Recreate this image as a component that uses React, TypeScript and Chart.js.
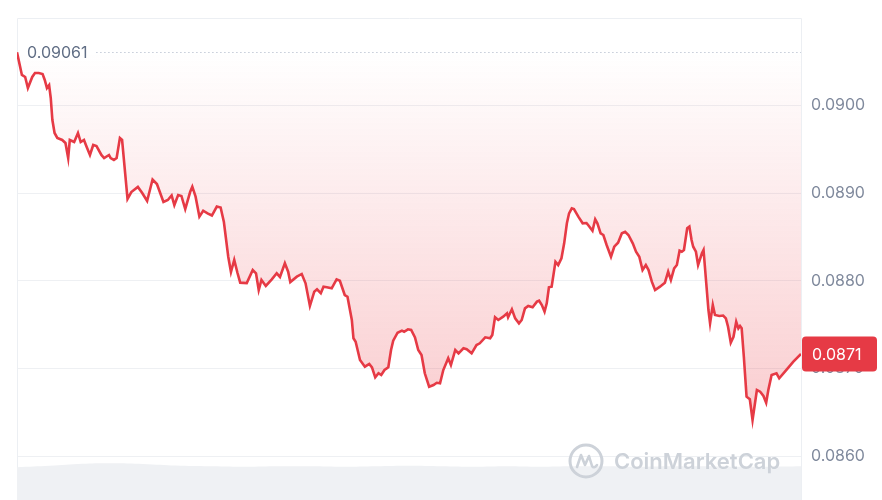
import React, { useEffect, useRef } from "react";
import { Chart, registerables } from "chart.js";

Chart.register(...registerables);

// minutes since start of the 24h window
const TIMES = [
  0, 7, 9, 15, 20, 28, 33, 40, 47, 51, 55, 59, 62, 65, 69, 74, 83, 89, 94, 97,
  105, 112, 117, 123, 128, 134, 140, 146, 155, 160, 169, 172, 178, 183, 189, 193, 203, 210, 222, 230,
  239, 249, 257, 269, 277, 284, 289, 296, 302, 309, 318, 322, 328, 335, 342, 350, 358, 367, 374, 380,
  388, 393, 399, 405, 410, 422, 433, 439, 444, 449, 457, 468, 477, 483, 492, 498, 502, 514, 523, 530,
  538, 546, 551, 558, 563, 569, 578, 587, 593, 602, 607, 615, 618, 622, 630, 639, 647, 652, 658, 664,
  669, 675, 682, 687, 691, 699, 707, 711, 718, 724, 731, 737, 743, 749, 757, 765, 771, 777, 783, 792,
  797, 805, 811, 820, 826, 835, 844, 850, 860, 869, 873, 878, 884, 893, 900, 902, 909, 915, 922, 927,
  933, 939, 947, 955, 959, 964, 969, 973, 977, 982, 989, 994, 1000, 1005, 1010, 1014, 1019, 1023, 1031, 1039,
  1046, 1049, 1057, 1062, 1066, 1072, 1077, 1083, 1091, 1097, 1104, 1111, 1117, 1123, 1131, 1137, 1143, 1149, 1155, 1160,
  1166, 1172, 1181, 1190, 1196, 1201, 1207, 1212, 1217, 1221, 1225, 1231, 1235, 1239, 1242, 1247, 1251, 1258, 1261, 1266,
  1270, 1273, 1278, 1282, 1290, 1297, 1302, 1306, 1311, 1316, 1321, 1325, 1328, 1331, 1335, 1340, 1346, 1351, 1359, 1365,
  1371, 1376, 1380, 1386, 1395, 1400, 1414, 1426, 1440,
];

const PRICES = [
  0.09061, 0.090407, 0.09035, 0.090327, 0.090201, 0.090327, 0.090372, 0.090372, 0.09036, 0.090293,
  0.090201, 0.090235, 0.090087, 0.089836, 0.089688, 0.089631, 0.089608, 0.089574, 0.089402, 0.089608,
  0.089585, 0.089688, 0.089585, 0.089608, 0.089528, 0.089437, 0.089551, 0.089539, 0.089437, 0.089402,
  0.089437, 0.089402, 0.08938, 0.089402, 0.089631, 0.089608, 0.088935, 0.089014, 0.089072, 0.089003,
  0.088912, 0.089157, 0.089106, 0.0889, 0.088923, 0.088975, 0.088866, 0.08898, 0.088969, 0.08882,
  0.089014, 0.089075, 0.088961, 0.088733, 0.088801, 0.088771, 0.088746, 0.088849, 0.088838, 0.088672,
  0.088276, 0.088102, 0.088239, 0.08809, 0.08798, 0.087975, 0.088124, 0.088087, 0.087896, 0.08801,
  0.087942, 0.088018, 0.088087, 0.088045, 0.088201, 0.088105, 0.087987, 0.088048, 0.088079, 0.087973,
  0.087714, 0.087877, 0.087904, 0.087859, 0.087934, 0.087927, 0.087916, 0.088018, 0.088002, 0.087839,
  0.08782, 0.087554, 0.087345, 0.087306, 0.087097, 0.087021, 0.087052, 0.087014, 0.0869, 0.086946,
  0.086926, 0.086983, 0.087014, 0.087212, 0.087318, 0.087409, 0.087432, 0.08742, 0.087448, 0.08744,
  0.087356, 0.087212, 0.087155, 0.086946, 0.086793, 0.086812, 0.086838, 0.086832, 0.086983, 0.087117,
  0.08704, 0.087212, 0.087174, 0.087231, 0.08722, 0.087174, 0.087269, 0.087288, 0.087356, 0.087345,
  0.087383, 0.087585, 0.087554, 0.087592, 0.08763, 0.087585, 0.087676, 0.087573, 0.087516, 0.087554,
  0.087687, 0.087714, 0.087699, 0.087763, 0.087774, 0.087725, 0.087649, 0.087744, 0.087927, 0.087934,
  0.088219, 0.088181, 0.088258, 0.088429, 0.088657, 0.088771, 0.088828, 0.08882, 0.088733, 0.088657,
  0.08866, 0.088638, 0.088573, 0.088703, 0.088657, 0.088543, 0.088524, 0.08841, 0.088276, 0.08839,
  0.088436, 0.088543, 0.088561, 0.088524, 0.088429, 0.088333, 0.088276, 0.088124, 0.088181, 0.088124,
  0.087991, 0.087896, 0.087934, 0.08798, 0.088105, 0.08801, 0.088144, 0.088181, 0.088345, 0.088333,
  0.088353, 0.0886, 0.088619, 0.088467, 0.08839, 0.088333, 0.088181, 0.088315, 0.088353, 0.087973,
  0.087668, 0.087516, 0.087725, 0.087611, 0.0876, 0.087605, 0.087573, 0.087477, 0.087295, 0.087363,
  0.087534, 0.087459, 0.087485, 0.087459, 0.087135, 0.086679, 0.086649, 0.086413, 0.086755, 0.086736,
  0.086687, 0.08661, 0.086755, 0.086926, 0.086946, 0.086889, 0.086991, 0.087078, 0.087166,
];

const OPEN_PRICE = 0.09061;
const Y_TICKS = [0.086, 0.087, 0.088, 0.089, 0.09];

const VOL_TIMES = [0, 60, 120, 180, 240, 300, 360, 420, 480, 540, 600, 660, 720, 780, 840, 900, 960, 1020, 1080, 1140, 1200, 1260, 1320, 1380, 1440];
const VOLUMES = [6.8, 7.1, 7.5, 7.6, 7.4, 7.1, 7.0, 6.9, 7.0, 7.0, 6.9, 7.0, 7.1, 7.0, 6.9, 7.0, 6.9, 7.0, 7.0, 6.9, 7.0, 7.0, 6.9, 6.9, 7.0];

const FONT = "Inter, 'Noto Sans', sans-serif";
const RED = "#e63a45";

const overlayPlugin = {
  id: "overlay",
  beforeDatasetsDraw(chart: any) {
    const { ctx, chartArea } = chart;
    const { left, right, top, bottom } = chartArea;
    ctx.save();
    ctx.strokeStyle = "#eceff3";
    ctx.lineWidth = 1;
    ctx.beginPath();
    ctx.moveTo(Math.round(left) + 0.5, bottom);
    ctx.lineTo(Math.round(left) + 0.5, Math.round(top) + 0.5);
    ctx.lineTo(Math.round(right) + 0.5, Math.round(top) + 0.5);
    ctx.lineTo(Math.round(right) + 0.5, bottom);
    ctx.stroke();
    ctx.restore();
  },
  afterDatasetsDraw(chart: any) {
    const { ctx, chartArea } = chart;
    const y = chart.scales.y.getPixelForValue(OPEN_PRICE);
    ctx.save();
    ctx.font = `16px ${FONT}`;
    ctx.fillStyle = "#616e85";
    ctx.textBaseline = "middle";
    const label = OPEN_PRICE.toFixed(5);
    const tx = chartArea.left + 10;
    ctx.fillText(label, tx, y + 1);
    const w = ctx.measureText(label).width;
    ctx.strokeStyle = "#a6b0c3";
    ctx.lineWidth = 1;
    ctx.setLineDash([1, 3]);
    ctx.beginPath();
    ctx.moveTo(tx + w + 9, Math.round(y) + 0.5);
    ctx.lineTo(chartArea.right, Math.round(y) + 0.5);
    ctx.stroke();
    ctx.setLineDash([]);

    // watermark
    const cx = 586;
    const cy = 461;
    ctx.strokeStyle = "#cdd2d9";
    ctx.lineWidth = 3;
    ctx.beginPath();
    ctx.arc(cx, cy, 16, 0, Math.PI * 2);
    ctx.stroke();
    ctx.lineWidth = 2.6;
    ctx.lineJoin = "round";
    ctx.lineCap = "round";
    ctx.beginPath();
    ctx.moveTo(cx - 9, cy + 6);
    ctx.lineTo(cx - 5, cy - 6);
    ctx.lineTo(cx - 1, cy + 4);
    ctx.lineTo(cx + 3, cy - 5);
    ctx.lineTo(cx + 6, cy + 5);
    ctx.quadraticCurveTo(cx + 8, cy + 8, cx + 11, cy + 4);
    ctx.stroke();
    ctx.font = `600 22px ${FONT}`;
    ctx.fillStyle = "#cdd2d9";
    ctx.textBaseline = "middle";
    ctx.fillText("CoinMarketCap", cx + 28, cy + 1);
    ctx.restore();
  },
  afterDraw(chart: any) {
    const { ctx, chartArea } = chart;
    const last = PRICES[PRICES.length - 1];
    const y = chart.scales.y.getPixelForValue(last);
    const x0 = chartArea.right + 1;
    const w = 75;
    const h = 35;
    ctx.save();
    ctx.fillStyle = RED;
    ctx.beginPath();
    (ctx as any).roundRect(x0, y - h / 2, w, h, 4);
    ctx.fill();
    ctx.fillStyle = "#ffffff";
    ctx.font = `16px ${FONT}`;
    ctx.textBaseline = "middle";
    const txt = (Math.floor(last * 10000) / 10000).toFixed(4);
    ctx.fillText(txt, x0 + 10, y + 1);
    ctx.restore();
  },
};

export default function App() {
  const ref = useRef<HTMLCanvasElement | null>(null);

  useEffect(() => {
    if (!ref.current) return;
    const chart = new Chart(ref.current, {
      type: "line",
      data: {
        datasets: [
          {
            label: "Price",
            data: TIMES.map((t, i) => ({ x: t, y: PRICES[i] })),
            borderColor: RED,
            borderWidth: 2.6,
            pointRadius: 0,
            tension: 0,
            yAxisID: "y",
            order: 1,
            fill: { target: { value: OPEN_PRICE } },
            backgroundColor: (context: any) => {
              const c = context.chart;
              const area = c.chartArea;
              if (!area) return "rgba(234,57,67,0.1)";
              const y0 = c.scales.y.getPixelForValue(OPEN_PRICE);
              const y1 = c.scales.y.getPixelForValue(0.086);
              const g = c.ctx.createLinearGradient(0, y0, 0, y1);
              g.addColorStop(0, "rgba(234,57,67,0.0)");
              g.addColorStop(1, "rgba(234,57,67,0.28)");
              return g;
            },
          } as any,
          {
            label: "Volume",
            data: VOL_TIMES.map((t, i) => ({ x: t, y: VOLUMES[i] })),
            borderWidth: 0,
            borderColor: "rgba(0,0,0,0)",
            backgroundColor: "#eff1f4",
            pointRadius: 0,
            tension: 0.4,
            fill: "origin",
            yAxisID: "yv",
            order: 2,
          } as any,
        ],
      },
      options: {
        animation: false,
        responsive: false,
        layout: { padding: { left: 17, top: 18, right: 0, bottom: 0 } },
        plugins: { legend: { display: false }, tooltip: { enabled: false } },
        scales: {
          x: { type: "linear", min: 0, max: 1440, display: false },
          y: {
            position: "right",
            min: 0.0855,
            max: 0.091,
            afterBuildTicks: (scale: any) => {
              scale.ticks = Y_TICKS.map((v) => ({ value: v }));
            },
            afterFit: (scale: any) => {
              scale.width = 81;
              scale.paddingTop = 0;
              scale.paddingBottom = 0;
            },
            grid: { color: "#eef0f3", lineWidth: 1, drawTicks: false },
            border: { display: false },
            ticks: {
              padding: 10,
              color: "#808a9d",
              font: { family: FONT, size: 16 },
              callback: (v: any) => Number(v).toFixed(4),
            },
          },
          yv: { display: false, min: 0, max: 100 },
        },
      } as any,
      plugins: [overlayPlugin],
    });
    return () => chart.destroy();
  }, []);

  return (
    <div style={{ position: "fixed", left: 0, top: 0, width: 882, height: 500, background: "#fff" }}>
      <canvas ref={ref} width={882} height={500} style={{ display: "block" }} />
    </div>
  );
}
